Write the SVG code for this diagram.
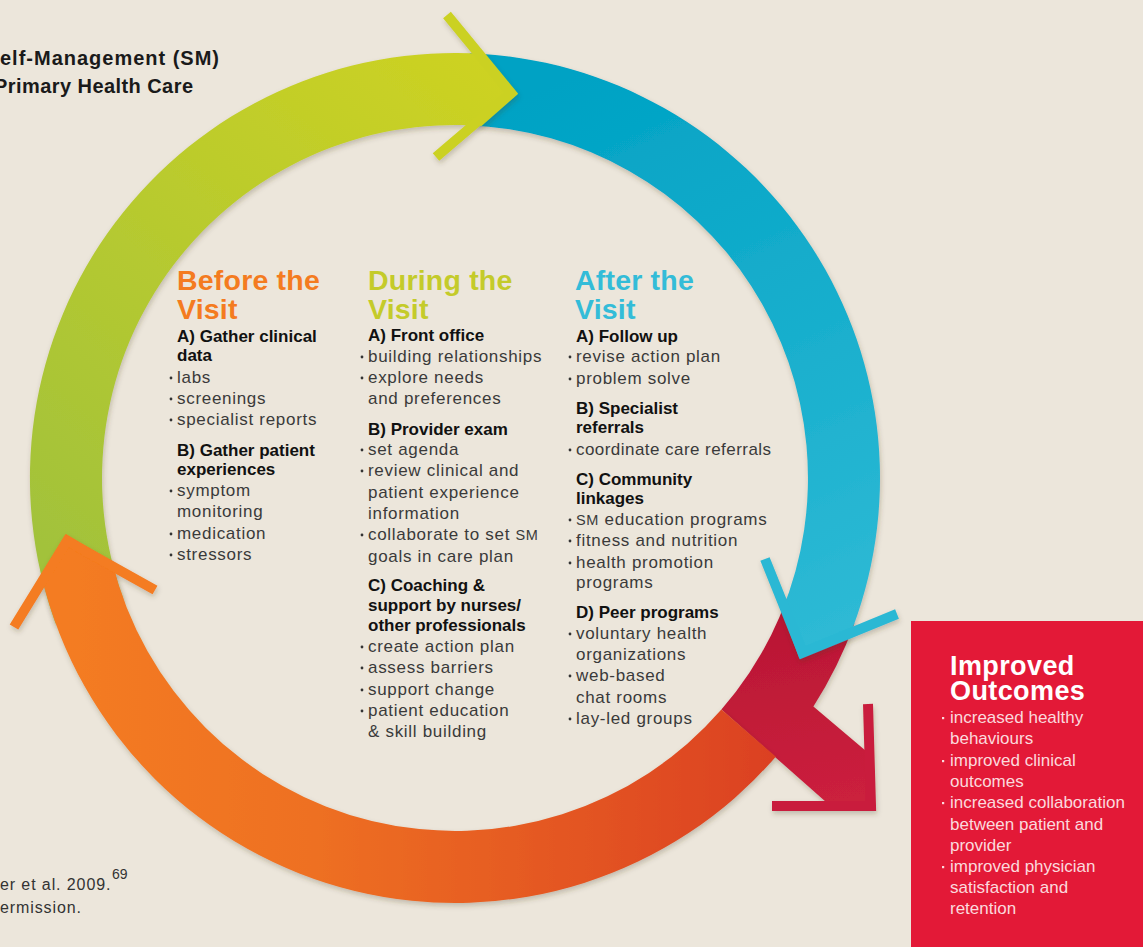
<svg xmlns="http://www.w3.org/2000/svg" width="1143" height="947" viewBox="0 0 1143 947">
<style>
text{font-family:"Liberation Sans",Arial,Helvetica,sans-serif}
.ttl{font-size:20px;font-weight:bold;fill:#1a1a1a}
.hd{font-size:28.5px;font-weight:bold;letter-spacing:0.2px}
.or{fill:#F47B20}.gr{fill:#C4CB2A}.bl{fill:#33BCD8}
.sub{font-size:17px;font-weight:bold;fill:#111}
.bd{font-size:17px;fill:#3a3a3a;letter-spacing:0.7px}
.sm{font-size:14.5px}
.dot{fill:#333}
.ot{font-size:27px;font-weight:bold;fill:#fff;letter-spacing:0.4px}
.oi{font-size:17px;fill:#FBD9DD}
.odot{fill:#FBD9DD}
.fn{font-size:16px;fill:#333;letter-spacing:0.9px}
.chev{fill:none;stroke-width:10;stroke-linejoin:miter;stroke-miterlimit:10;stroke-linecap:butt}
</style>
<defs>
<linearGradient id="gGreen" gradientUnits="userSpaceOnUse" x1="480" y1="60" x2="60" y2="560"><stop offset="0" stop-color="#CDD222"/><stop offset="1" stop-color="#A2C23B"/></linearGradient>
<linearGradient id="gBlue" gradientUnits="userSpaceOnUse" x1="560" y1="80" x2="830" y2="640"><stop offset="0" stop-color="#00A2C4"/><stop offset="1" stop-color="#2EBAD5"/></linearGradient>
<linearGradient id="gOrange" gradientUnits="userSpaceOnUse" x1="60" y1="0" x2="780" y2="0"><stop offset="0" stop-color="#F47C20"/><stop offset="0.35" stop-color="#EE7021"/><stop offset="1" stop-color="#DB4020"/></linearGradient>
<linearGradient id="gRed" gradientUnits="userSpaceOnUse" x1="800" y1="600" x2="840" y2="800"><stop offset="0" stop-color="#B81634"/><stop offset="1" stop-color="#CB203D"/></linearGradient>
<filter id="sh" x="-10%" y="-10%" width="130%" height="130%"><feDropShadow dx="1" dy="3" stdDeviation="2.5" flood-color="#4a3a20" flood-opacity="0.25"/></filter>
</defs>
<rect width="1143" height="947" fill="#ECE6DB"/>

<g id="title">
<text class="ttl" x="0" y="65" textLength="219" lengthAdjust="spacing">elf-Management (SM)</text>
<text class="ttl" x="-6" y="93" textLength="199" lengthAdjust="spacing">Primary Health Care</text>
</g>

<g id="connectors">
<g id="arrow-after-red" filter="url(#sh)">
<path d="M854.4,623.4 A425,425 0 0 1 813.4,706.4 L866,751 L871,806 L826,802 L721.4,709.6 A353,353 0 0 0 786.7,598.7 Z" fill="url(#gRed)"/>
<polyline class="chev" points="868,704 871,806 772,806" stroke="#C91F3C"/>
</g>
<g id="arrow-during-after" filter="url(#sh)">
<path d="M469.8,53.3 A425,425 0 0 1 848.5,638.6 L799.4,658.8 L781.8,611.4 A353,353 0 0 0 467.3,125.2 Z" fill="url(#gBlue)"/>
<polyline class="chev" points="765,559 802.7,652.6 897,614" stroke="#2BB8D4"/>
</g>
<g id="arrow-before-during" filter="url(#sh)">
<path d="M55.6,623.4 A425,425 0 0 1 483.2,53.9 L517.9,94.1 L481.5,126 A353,353 0 0 0 123.3,598.7 Z" fill="url(#gGreen)"/>
<polyline class="chev" points="447,15 511,93 436,157" stroke="#CBD122"/>
</g>
<g id="arrow-outcome-before" filter="url(#sh)">
<path d="M775.8,756.8 A425,425 0 0 1 42.1,578.6 L66,534 L112.1,561.6 A353,353 0 0 0 721.4,709.6 Z" fill="url(#gOrange)"/>
<polyline class="chev" points="14,627 67,541 155,590" stroke="#F47B20"/>
</g>
</g>

<g id="before">
<text class="hd or" x="177" y="290">Before the</text>
<text class="hd or" x="177" y="319">Visit</text>
<text class="sub" x="177" y="342">A) Gather clinical</text>
<text class="sub" x="177" y="361">data</text>
<text class="bd" x="177" y="383">labs</text>
<text class="bd" x="177" y="404">screenings</text>
<text class="bd" x="177" y="425">specialist reports</text>
<text class="sub" x="177" y="456">B) Gather patient</text>
<text class="sub" x="177" y="475">experiences</text>
<text class="bd" x="177" y="496">symptom</text>
<text class="bd" x="177" y="517">monitoring</text>
<text class="bd" x="177" y="539">medication</text>
<text class="bd" x="177" y="560">stressors</text>
<circle class="dot" cx="171" cy="378" r="1.4"/>
<circle class="dot" cx="171" cy="399" r="1.4"/>
<circle class="dot" cx="171" cy="420" r="1.4"/>
<circle class="dot" cx="171" cy="491" r="1.4"/>
<circle class="dot" cx="171" cy="534" r="1.4"/>
<circle class="dot" cx="171" cy="555" r="1.4"/>
</g>

<g id="during">
<text class="hd gr" x="368" y="290">During the</text>
<text class="hd gr" x="368" y="319">Visit</text>
<text class="sub" x="368" y="341">A) Front office</text>
<text class="bd" x="368" y="362">building relationships</text>
<text class="bd" x="368" y="383">explore needs</text>
<text class="bd" x="368" y="404">and preferences</text>
<text class="sub" x="368" y="435">B) Provider exam</text>
<text class="bd" x="368" y="455">set agenda</text>
<text class="bd" x="368" y="476">review clinical and</text>
<text class="bd" x="368" y="498">patient experience</text>
<text class="bd" x="368" y="519">information</text>
<text class="bd" x="368" y="540">collaborate to set <tspan class="sm">SM</tspan></text>
<text class="bd" x="368" y="562">goals in care plan</text>
<text class="sub" x="368" y="591">C) Coaching &amp;</text>
<text class="sub" x="368" y="611">support by nurses/</text>
<text class="sub" x="368" y="631">other professionals</text>
<text class="bd" x="368" y="652">create action plan</text>
<text class="bd" x="368" y="673">assess barriers</text>
<text class="bd" x="368" y="695">support change</text>
<text class="bd" x="368" y="716">patient education</text>
<text class="bd" x="368" y="737">&amp; skill building</text>
<circle class="dot" cx="362" cy="357" r="1.4"/>
<circle class="dot" cx="362" cy="378" r="1.4"/>
<circle class="dot" cx="362" cy="450" r="1.4"/>
<circle class="dot" cx="362" cy="471" r="1.4"/>
<circle class="dot" cx="362" cy="535" r="1.4"/>
<circle class="dot" cx="362" cy="647" r="1.4"/>
<circle class="dot" cx="362" cy="668" r="1.4"/>
<circle class="dot" cx="362" cy="690" r="1.4"/>
<circle class="dot" cx="362" cy="711" r="1.4"/>
</g>

<g id="after">
<text class="hd bl" x="575" y="290">After the</text>
<text class="hd bl" x="575" y="319">Visit</text>
<text class="sub" x="576" y="342">A) Follow up</text>
<text class="bd" x="576" y="362">revise action plan</text>
<text class="bd" x="576" y="384">problem solve</text>
<text class="sub" x="576" y="414">B) Specialist</text>
<text class="sub" x="576" y="433">referrals</text>
<text class="bd" x="576" y="455" style="letter-spacing:0.45px">coordinate care referrals</text>
<text class="sub" x="576" y="485">C) Community</text>
<text class="sub" x="576" y="504">linkages</text>
<text class="bd" x="576" y="525"><tspan class="sm">SM</tspan> education programs</text>
<text class="bd" x="576" y="546">fitness and nutrition</text>
<text class="bd" x="576" y="568">health promotion</text>
<text class="bd" x="576" y="588">programs</text>
<text class="sub" x="576" y="618">D) Peer programs</text>
<text class="bd" x="576" y="639">voluntary health</text>
<text class="bd" x="576" y="660">organizations</text>
<text class="bd" x="576" y="681">web-based</text>
<text class="bd" x="576" y="703">chat rooms</text>
<text class="bd" x="576" y="724">lay-led groups</text>
<circle class="dot" cx="570" cy="357" r="1.4"/>
<circle class="dot" cx="570" cy="379" r="1.4"/>
<circle class="dot" cx="570" cy="450" r="1.4"/>
<circle class="dot" cx="570" cy="520" r="1.4"/>
<circle class="dot" cx="570" cy="541" r="1.4"/>
<circle class="dot" cx="570" cy="563" r="1.4"/>
<circle class="dot" cx="570" cy="634" r="1.4"/>
<circle class="dot" cx="570" cy="676" r="1.4"/>
<circle class="dot" cx="570" cy="719" r="1.4"/>
</g>

<g id="outcomes">
<rect x="911" y="621" width="232" height="326" fill="#E31937"/>
<text class="ot" x="950" y="675">Improved</text>
<text class="ot" x="950" y="700">Outcomes</text>
<text class="oi" x="950" y="723">increased healthy</text>
<text class="oi" x="950" y="744">behaviours</text>
<text class="oi" x="950" y="766">improved clinical</text>
<text class="oi" x="950" y="787">outcomes</text>
<text class="oi" x="950" y="808">increased collaboration</text>
<text class="oi" x="950" y="830">between patient and</text>
<text class="oi" x="950" y="851">provider</text>
<text class="oi" x="950" y="872">improved physician</text>
<text class="oi" x="950" y="893">satisfaction and</text>
<text class="oi" x="950" y="914">retention</text>
<rect class="odot" x="942" y="717" width="2.2" height="2.2"/>
<rect class="odot" x="942" y="760" width="2.2" height="2.2"/>
<rect class="odot" x="942" y="802" width="2.2" height="2.2"/>
<rect class="odot" x="942" y="866" width="2.2" height="2.2"/>
</g>

<g id="footnote">
<text class="fn" x="0" y="890">er et al. 2009.</text>
<text class="fn" x="112" y="879" style="font-size:14px;letter-spacing:0">69</text>
<text class="fn" x="0" y="913">ermission.</text>
</g>
</svg>
